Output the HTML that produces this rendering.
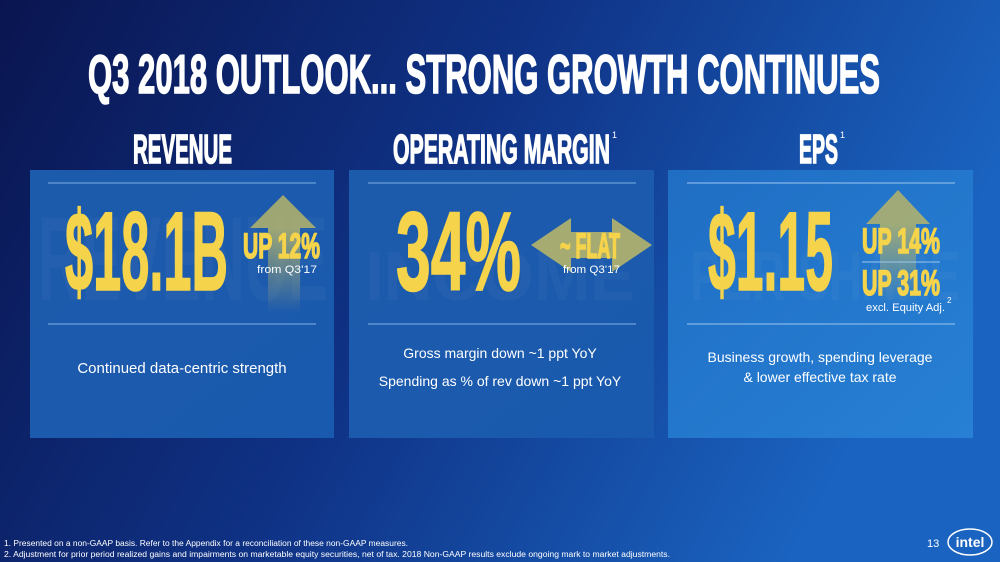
<!DOCTYPE html>
<html><head><meta charset="utf-8"><style>
html,body{margin:0;padding:0;width:1000px;height:562px;overflow:hidden;background:#0b1d5e}
svg{display:block}
text{font-family:"Liberation Sans",sans-serif}
.hv{stroke-width:1.6;paint-order:stroke}
</style></head><body>
<svg width="1000" height="562" viewBox="0 0 1000 562">
<defs>
<linearGradient id="bg" x1="0" y1="0" x2="1" y2="0.3">
<stop offset="0" stop-color="#0a1550"/><stop offset="0.5" stop-color="#0f3285"/><stop offset="1" stop-color="#1a63c0"/>
</linearGradient>
<linearGradient id="p1" x1="0" y1="0" x2="1" y2="1"><stop offset="0" stop-color="#1c5aab"/><stop offset="1" stop-color="#1a5aae"/></linearGradient>
<linearGradient id="p3" x1="0" y1="0" x2="1" y2="1"><stop offset="0" stop-color="#1f6ec4"/><stop offset="1" stop-color="#2780d4"/></linearGradient>
<linearGradient id="stem" x1="0" y1="0" x2="0" y2="1"><stop offset="0" stop-color="#b5b46a" stop-opacity="0.85"/><stop offset="1" stop-color="#b5b46a" stop-opacity="0"/></linearGradient>
</defs>
<rect width="1000" height="562" fill="url(#bg)"/>
<text class="hv" stroke="#fff" x="88" y="93" font-size="55" font-weight="bold" fill="#fff" textLength="792" lengthAdjust="spacingAndGlyphs">Q3 2018 OUTLOOK... STRONG GROWTH CONTINUES</text>

<text class="hv" stroke="#fff" x="133" y="163" font-size="41" font-weight="bold" fill="#fff" textLength="99" lengthAdjust="spacingAndGlyphs">REVENUE</text>
<text class="hv" stroke="#fff" x="393" y="163" font-size="41" font-weight="bold" fill="#fff" textLength="217" lengthAdjust="spacingAndGlyphs">OPERATING MARGIN</text>
<text x="612" y="138" font-size="9" fill="#fff">1</text>
<text class="hv" stroke="#fff" x="799" y="163" font-size="41" font-weight="bold" fill="#fff" textLength="39" lengthAdjust="spacingAndGlyphs">EPS</text>
<text x="840" y="138" font-size="9" fill="#fff">1</text>

<g>
<rect x="30" y="170" width="304" height="268" fill="url(#p1)"/>
<text x="38" y="300" font-size="120" font-weight="bold" fill="#fff" opacity="0.03" textLength="290" lengthAdjust="spacingAndGlyphs">REVENUE</text>
<line x1="48" y1="183" x2="316" y2="183" stroke="#7fb0e6" stroke-width="1"/>
<line x1="48" y1="324" x2="316" y2="324" stroke="#7fb0e6" stroke-width="1"/>
<polygon points="283,195 316,228 250,228" fill="#b5b46a" opacity="0.85"/>
<rect x="268" y="228" width="32" height="85" fill="url(#stem)"/>
<text class="hv" stroke="#f5d34a" x="65" y="290" font-size="112" font-weight="bold" fill="#f5d34a" textLength="163" lengthAdjust="spacingAndGlyphs">$18.1B</text>
<text class="hv" stroke="#f5d34a" x="243" y="258" font-size="35" font-weight="bold" fill="#f5d34a" textLength="77" lengthAdjust="spacingAndGlyphs">UP 12%</text>
<text x="257" y="273" font-size="11" fill="#fff" textLength="60" lengthAdjust="spacingAndGlyphs">from Q3'17</text>
<text x="182" y="373" font-size="15" fill="#fff" text-anchor="middle">Continued data-centric strength</text>
</g>

<g>
<rect x="349" y="170" width="305" height="268" fill="url(#p1)"/>
<text x="365" y="300" font-size="70" font-weight="bold" fill="#fff" opacity="0.03" textLength="270" lengthAdjust="spacingAndGlyphs">INCOME</text>
<line x1="368" y1="183" x2="636" y2="183" stroke="#7fb0e6" stroke-width="1"/>
<line x1="368" y1="324" x2="636" y2="324" stroke="#7fb0e6" stroke-width="1"/>
<polygon points="531,245 571,218 571,232 612,232 612,218 652,245 612,272 612,258 571,258 571,272" fill="#b5b46a" opacity="0.9"/>
<text class="hv" stroke="#f5d34a" x="396" y="290" font-size="112" font-weight="bold" fill="#f5d34a" textLength="125" lengthAdjust="spacingAndGlyphs">34%</text>
<text class="hv" stroke="#f5d34a" x="560" y="258" font-size="35" font-weight="bold" fill="#f5d34a" textLength="60" lengthAdjust="spacingAndGlyphs">~ FLAT</text>
<text x="563" y="273" font-size="11" fill="#fff" textLength="57" lengthAdjust="spacingAndGlyphs">from Q3'17</text>
<text x="500" y="358" font-size="14" fill="#fff" text-anchor="middle">Gross margin down ~1 ppt YoY</text>
<text x="500" y="386" font-size="14" fill="#fff" text-anchor="middle">Spending as % of rev down ~1 ppt YoY</text>
</g>

<g>
<rect x="668" y="170" width="305" height="268" fill="url(#p3)"/>
<text x="690" y="300" font-size="70" font-weight="bold" fill="#fff" opacity="0.03" textLength="270" lengthAdjust="spacingAndGlyphs">PER SHARE</text>
<line x1="687" y1="183" x2="955" y2="183" stroke="#9cc6f0" stroke-width="1"/>
<line x1="687" y1="324" x2="955" y2="324" stroke="#9cc6f0" stroke-width="1"/>
<polygon points="898,190 930,224 866,224" fill="#b5b46a" opacity="0.85"/>
<rect x="880" y="224" width="36" height="80" fill="url(#stem)"/>
<text class="hv" stroke="#f5d34a" x="708" y="290" font-size="112" font-weight="bold" fill="#f5d34a" textLength="125" lengthAdjust="spacingAndGlyphs">$1.15</text>
<text class="hv" stroke="#f5d34a" x="862" y="253" font-size="35" font-weight="bold" fill="#f5d34a" textLength="78" lengthAdjust="spacingAndGlyphs">UP 14%</text>
<line x1="862" y1="262" x2="940" y2="262" stroke="#9cc6f0" stroke-width="1"/>
<text class="hv" stroke="#f5d34a" x="862" y="295" font-size="35" font-weight="bold" fill="#f5d34a" textLength="78" lengthAdjust="spacingAndGlyphs">UP 31%</text>
<text x="866" y="311" font-size="11" fill="#fff" textLength="79" lengthAdjust="spacingAndGlyphs">excl. Equity Adj.</text>
<text x="947" y="303" font-size="8" fill="#fff">2</text>
<text x="820" y="362" font-size="14" fill="#fff" text-anchor="middle">Business growth, spending leverage</text>
<text x="820" y="382" font-size="14" fill="#fff" text-anchor="middle">&amp; lower effective tax rate</text>
</g>

<text x="4" y="546" font-size="8" fill="#fff" textLength="404" lengthAdjust="spacingAndGlyphs">1. Presented on a non-GAAP basis. Refer to the Appendix for a reconciliation of these non-GAAP measures.</text>
<text x="4" y="557" font-size="8" fill="#fff" textLength="666" lengthAdjust="spacingAndGlyphs">2. Adjustment for prior period realized gains and impairments on marketable equity securities, net of tax. 2018 Non-GAAP results exclude ongoing mark to market adjustments.</text>
<text x="927" y="547" font-size="11" fill="#fff">13</text>
<g>
<ellipse cx="970" cy="542" rx="22" ry="13" fill="none" stroke="#fff" stroke-width="1.5"/>
<text x="970" y="547" font-size="14" font-weight="bold" fill="#fff" text-anchor="middle">intel</text>
</g>
</svg>
</body></html>
